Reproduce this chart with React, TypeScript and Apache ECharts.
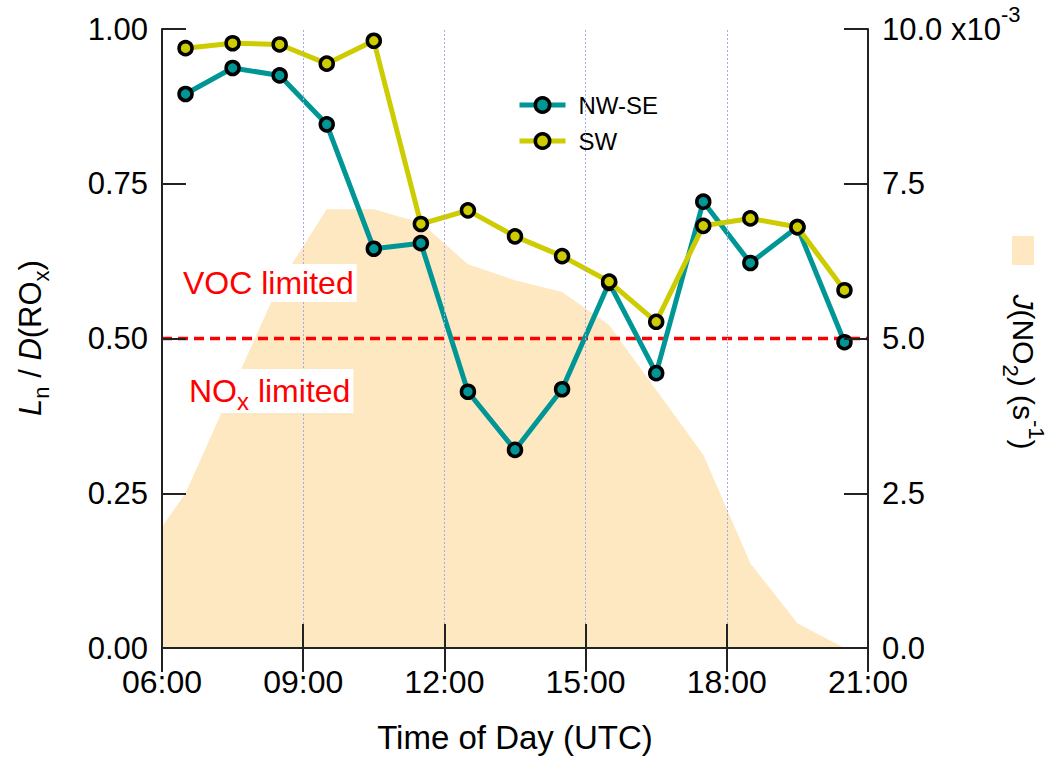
import React, { useEffect, useRef } from "react";
import * as echarts from "echarts";

// ---- data ----
const hours = [6.5, 7.5, 8.5, 9.5, 10.5, 11.5, 12.5, 13.5, 14.5, 15.5, 16.5, 17.5, 18.5, 19.5, 20.5];
const nwse = [0.895, 0.937, 0.925, 0.846, 0.645, 0.654, 0.414, 0.32, 0.418, 0.59, 0.444, 0.721, 0.622, 0.68, 0.494];
const sw = [0.969, 0.977, 0.975, 0.944, 0.981, 0.685, 0.707, 0.665, 0.633, 0.592, 0.527, 0.682, 0.694, 0.68, 0.578];
const jHours = [6, 6.5, 7.5, 8.5, 9.5, 10.5, 11.5, 12.5, 13.5, 14.5, 15.5, 16.5, 17.5, 18.5, 19.5, 20.5, 21];
const jno2e3 = [1.96, 2.5, 4.2, 5.89, 7.09, 7.09, 6.87, 6.2, 5.94, 5.75, 5.22, 4.17, 3.12, 1.37, 0.4, 0, 0];
const gridHours = [9, 12, 15, 18];
const threshold = 0.5;
const xRange = [6, 21];

const FONT = "'Liberation Sans', Arial, sans-serif";
const TEAL = "#009696";
const YEL = "#cccc00";
const AREA = "#fde8c1";

export default function App() {
  const ref = useRef<HTMLDivElement>(null);
  useEffect(() => {
    if (!ref.current) return;
    const chart = echarts.init(ref.current, undefined, { renderer: "svg" });
    const fmtH = (v: number) => (v < 10 ? "0" : "") + Math.round(v) + ":00";
    const option: any = {
      animation: false,
      backgroundColor: "#fff",
      textStyle: { fontFamily: FONT },
      grid: { left: 162, right: 186, top: 29, bottom: 113 },
      legend: {
        data: ["NW-SE", "SW"],
        orient: "vertical",
        left: 517,
        top: 93,
        padding: 0,
        itemWidth: 46,
        itemHeight: 18,
        itemGap: 12,
        lineStyle: { width: 5 },
        itemStyle: { borderColor: "#000", borderWidth: 3.5 },
        textStyle: { fontSize: 24, color: "#000", fontFamily: FONT, padding: [0, 0, 0, 8] },
      },
      xAxis: [
        {
          type: "value",
          min: xRange[0],
          max: xRange[1],
          interval: 3,
          position: "bottom",
          z: 6,
          name: "Time of Day (UTC)",
          nameLocation: "middle",
          nameGap: 73,
          nameTextStyle: { fontSize: 33, color: "#000", fontFamily: FONT, verticalAlign: "top" },
          axisLine: { lineStyle: { color: "#222", width: 2 } },
          axisTick: { inside: true, length: 24, lineStyle: { color: "#222", width: 2 } },
          axisLabel: { fontSize: 32, color: "#000", margin: 18, formatter: fmtH, fontFamily: FONT },
          splitLine: { show: false },
        },
        {
          type: "value",
          min: xRange[0],
          max: xRange[1],
          interval: 3,
          position: "top",
          z: 6,
          axisLine: { lineStyle: { color: "#222", width: 2 } },
          axisTick: { inside: true, length: 24, lineStyle: { color: "#222", width: 2 } },
          axisLabel: { show: false },
          splitLine: { show: false },
        },
      ],
      yAxis: [
        {
          type: "value",
          min: 0,
          max: 1,
          interval: 0.25,
          position: "left",
          z: 6,
          axisLine: { show: true, lineStyle: { color: "#222", width: 2 } },
          axisTick: { show: true, inside: true, length: 24, lineStyle: { color: "#222", width: 2 } },
          axisLabel: { fontSize: 31, color: "#000", margin: 14, formatter: (v: number) => v.toFixed(2), fontFamily: FONT },
          splitLine: { show: false },
        },
        {
          type: "value",
          min: 0,
          max: 0.01,
          interval: 0.0025,
          position: "right",
          z: 6,
          axisLine: { show: true, lineStyle: { color: "#222", width: 2 } },
          axisTick: { show: true, inside: true, length: 24, lineStyle: { color: "#222", width: 2 } },
          axisLabel: {
            fontSize: 31,
            color: "#000",
            margin: 14,
            fontFamily: FONT,
            formatter: (v: number) => {
              const s = (v * 1000).toFixed(1);
              return v >= 0.00999 ? "{m|" + s + " x10}{s|-3}" : s;
            },
            rich: {
              m: { fontSize: 31, lineHeight: 52, verticalAlign: "middle", color: "#000", fontFamily: FONT },
              s: { fontSize: 22, lineHeight: 22, verticalAlign: "top", color: "#000", fontFamily: FONT },
            },
          },
          splitLine: { show: false },
        },
      ],
      series: [
        {
          name: "J(NO2)",
          type: "line",
          yAxisIndex: 1,
          data: jHours.map((h, i) => [h, jno2e3[i] / 1000]),
          symbol: "none",
          lineStyle: { width: 0 },
          areaStyle: { color: AREA, opacity: 1 },
          z: 1,
          markLine: {
            silent: true,
            symbol: "none",
            label: { show: false },
            lineStyle: { color: "#a8a8ee", width: 1, type: [2, 2] },
            data: gridHours.map((h) => ({ xAxis: h })),
          },
        },
        {
          name: "threshold",
          type: "line",
          data: xRange.map((h) => [h, threshold]),
          symbol: "none",
          lineStyle: { color: "#ff0000", width: 3.5, type: [10, 6] },
          z: 2,
        },
        {
          name: "NW-SE",
          type: "line",
          data: hours.map((h, i) => [h, nwse[i]]),
          symbol: "circle",
          symbolSize: 13,
          lineStyle: { color: TEAL, width: 5 },
          itemStyle: { color: TEAL, borderColor: "#000", borderWidth: 3.5 },
          z: 3,
        },
        {
          name: "SW",
          type: "line",
          data: hours.map((h, i) => [h, sw[i]]),
          symbol: "circle",
          symbolSize: 13,
          lineStyle: { color: YEL, width: 5 },
          itemStyle: { color: YEL, borderColor: "#000", borderWidth: 3.5 },
          z: 4,
        },
      ],
      graphic: [
        {
          type: "text",
          x: 180,
          y: 283,
          z: 10,
          style: {
            text: "VOC limited",
            fill: "#ff0000",
            fontSize: 32,
            fontFamily: FONT,
            backgroundColor: "#fff",
            padding: [3, 3, 3, 3],
            lineHeight: 32,
            align: "left",
            verticalAlign: "middle",
          },
        },
        {
          type: "text",
          x: 186,
          y: 391,
          z: 10,
          style: {
            text: "{a|NO}{b|x}{a| limited}",
            fill: "#ff0000",
            backgroundColor: "#fff",
            padding: [0, 3, 0, 3],
            align: "left",
            verticalAlign: "middle",
            rich: {
              a: { fontSize: 32, lineHeight: 44, verticalAlign: "middle", fill: "#ff0000", fontFamily: FONT },
              b: { fontSize: 24, lineHeight: 24, verticalAlign: "bottom", fill: "#ff0000", fontFamily: FONT },
            },
          },
        },
        {
          type: "text",
          x: 30,
          y: 338,
          rotation: Math.PI / 2,
          style: {
            text: "{i|L}{b|n}{a| / }{i|D}{a|(RO}{b|x}{a|)}",
            align: "center",
            verticalAlign: "middle",
            fill: "#000",
            rich: {
              a: { fontSize: 31, lineHeight: 44, verticalAlign: "middle", fill: "#000", fontFamily: FONT },
              i: { fontSize: 31, lineHeight: 44, verticalAlign: "middle", fill: "#000", fontFamily: FONT, fontStyle: "italic" },
              b: { fontSize: 22, lineHeight: 22, verticalAlign: "bottom", fill: "#000", fontFamily: FONT },
            },
          },
        },
        {
          type: "rect",
          shape: { x: 1012, y: 236, width: 22, height: 29 },
          style: { fill: AREA },
        },
        {
          type: "text",
          x: 1023,
          y: 372,
          rotation: -Math.PI / 2,
          style: {
            text: "{i|J}{a|(NO}{b|2}{a|) (s}{s|-1}{a|)}",
            align: "center",
            verticalAlign: "middle",
            fill: "#000",
            rich: {
              a: { fontSize: 30, lineHeight: 48, verticalAlign: "middle", fill: "#000", fontFamily: FONT },
              i: { fontSize: 30, lineHeight: 48, verticalAlign: "middle", fill: "#000", fontFamily: FONT, fontStyle: "italic" },
              b: { fontSize: 22, lineHeight: 22, verticalAlign: "bottom", fill: "#000", fontFamily: FONT },
              s: { fontSize: 22, lineHeight: 22, verticalAlign: "top", fill: "#000", fontFamily: FONT },
            },
          },
        },
      ],
    };
    chart.setOption(option);
    return () => chart.dispose();
  }, []);
  return (
    <div
      ref={ref}
      style={{ position: "absolute", left: 0, top: 0, width: 1054, height: 761, background: "#fff" }}
    />
  );
}
